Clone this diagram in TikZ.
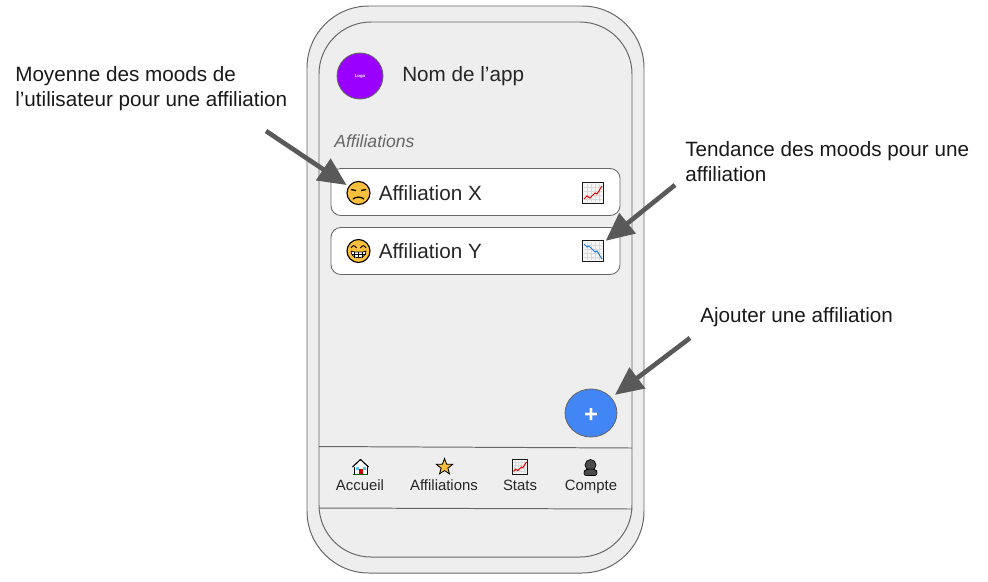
\documentclass[tikz,border=0pt]{standalone}
\usepackage{fontspec}
\setmainfont{Liberation Sans}
\usepackage[svgnames]{xcolor}
\usetikzlibrary{arrows.meta,shapes.geometric}
\definecolor{phonegrey}{HTML}{EEEEEE}
\definecolor{linegrey}{HTML}{666666}
\definecolor{arrowgrey}{HTML}{595959}
\definecolor{logopurple}{HTML}{9900FF}
\definecolor{fabblue}{HTML}{4285F4}
\definecolor{emojiyellow}{HTML}{FBBF3E}
\tikzset{
	phone/.style={draw=linegrey,fill=phonegrey,line width=0.7pt},
	card/.style={draw=linegrey,fill=white,line width=0.6pt,rounded corners=7pt,minimum width=289*0.025cm,minimum height=47*0.025cm},
	cardlabel/.style={anchor=base west,font=\fontsize{14.7}{17}\selectfont,text=black!85,inner sep=0pt},
	note/.style={anchor=base west,font=\fontsize{14.7}{17}\selectfont,text=black!90,inner sep=0pt},
	navlabel/.style={anchor=base,font=\fontsize{10.6}{12}\selectfont,text=black!85,inner sep=0pt},
	face/.style={circle,draw=black,fill=emojiyellow,line width=0.8pt,minimum size=23*0.025cm,inner sep=0pt,outer sep=0pt},
	chartbox/.style={draw=black!90,fill=phonegrey!60,line width=1pt,minimum size=21*0.025cm,inner sep=0pt,outer sep=0pt},
	callout/.style={draw=arrowgrey,line width=3.3pt,shorten >=2pt,-{Triangle[length=20pt,width=18pt]}},
	chartgrid/.pic={
		\foreach \g in {-6,-2,2,6} {
			\draw[black!15,line width=0.4pt] (\g,-9) -- (\g,9);
			\draw[black!15,line width=0.4pt] (-9,\g) -- (9,\g);
		}
	},
	chartup/.pic={
		\draw[red!90!black,line width=0.7pt] (-9,6) -- (-6,3) -- (-3,5) -- (2,0) -- (4,1) -- (9,-7);
	},
	chartdown/.pic={
		\draw[DodgerBlue!85!black,line width=0.7pt] (-9,-7) -- (-6,-4) -- (-4,-5) -- (2,1) -- (4,0) -- (9,8);
	},
}
\begin{document}
\begin{tikzpicture}[x=0.025cm,y=-0.025cm]
		\useasboundingbox (0,0) rectangle (988,581);
		\draw[phone,rounded corners=44pt] (307,6) rectangle (644,573);
		\draw[phone,rounded corners=37pt] (319,22) rectangle (632,557);
		\draw[linegrey,line width=0.7pt] (319,446.5) -- (632,448);
		\draw[linegrey,line width=0.7pt] (319,508) -- (632,509);
		\node[circle,draw=linegrey,fill=logopurple,minimum size=46*0.025cm,inner sep=0pt,line width=0.6pt] (logo) at (360,76) {};
		\node[text=white,font=\fontsize{3}{3}\selectfont\bfseries,inner sep=0pt] (logotext) at (360,76) {Logo};
		\node[cardlabel] (appname) at (402,81) {Nom de l’app};
		\node[anchor=west,inner sep=0pt,text=black!60,font=\fontsize{12.5}{15}\selectfont\itshape] (heading) at (334,141) {Affiliations};
		\node[card] (cardx) at (475.5,192) {};
		\node[card] (cardy) at (475.5,251) {};
		\node[cardlabel] (labelx) at (378.5,200.4) {Affiliation X};
		\node[cardlabel] (labely) at (378.5,258.4) {Affiliation Y};
		\node[face] (facex) at (358.5,193) {};
		\draw[line width=0.9pt] (351,189.5) -- (356,190.5);
		\draw[line width=0.9pt] (361,190.5) -- (366,189.5);
		\draw[line width=0.9pt] (353,199) .. controls (356,196.5) and (361,196.5) .. (364,199);
		\node[face] (facey) at (358.5,251) {};
		\draw[line width=0.7pt] (351,248) .. controls (352.5,245) and (355,245) .. (356.5,248);
		\draw[line width=0.7pt] (360.5,248) .. controls (362,245) and (364.5,245) .. (366,248);
		\draw[fill=white,line width=0.5pt] (351,251) .. controls (354,252.5) and (363,252.5) .. (366,251) .. controls (366,260) and (351,260) .. (351,251);
		\draw[line width=0.3pt] (351.5,254.5) -- (365.5,254.5);
		\foreach \t in {354.5,358.5,362.5} {
			\draw[line width=0.3pt] (\t,252) -- (\t,257.5);
		}
		\node[chartbox] (chartx) at (593,193) {};
		\pic at (593,193) {chartgrid};
		\pic at (593,193) {chartup};
		\node[chartbox] (charty) at (593,251) {};
		\pic at (593,251) {chartgrid};
		\pic at (593,251) {chartdown};
		\node[circle,draw=linegrey,fill=fabblue,minimum width=48*0.025cm,inner sep=0pt,outer sep=0pt,line width=0.6pt,xscale=1.08] (fab) at (591,413) {};
		\node[text=white,inner sep=0pt,font=\fontsize{17}{17}\selectfont\bfseries] (plus) at (591,415) {+};
		\draw[fill=white,line width=0.7pt] (354,474) rectangle (367,465);
		\draw[fill=red!80!black,draw=none] (359,474) rectangle (362.5,469);
		\fill[cyan!70] (356,467) rectangle (358.5,469.5);
		\fill[cyan!70] (363,467) rectangle (365.5,469.5);
		\draw[fill=white,line width=0.8pt,line join=round] (352.5,467) -- (360.5,459.5) -- (368.5,467);
		\draw[DarkGreen,line width=0.7pt] (353,474.5) -- (368,474.5);
		\node[navlabel] (navhome) at (360,490) {Accueil};
		\node[star,star points=5,star point ratio=2.4,draw=black,fill=emojiyellow,line width=0.6pt,minimum size=17*0.025cm,inner sep=0pt] (navstar) at (444.5,467) {};
		\node[navlabel] (navaff) at (444,490) {Affiliations};
		\node[chartbox,minimum size=15*0.025cm,line width=0.8pt] (navchart) at (520,467) {};
		\pic[scale=0.72] at (520,467) {chartgrid};
		\pic[scale=0.72] at (520,467) {chartup};
		\node[navlabel] (navstats) at (520,490) {Stats};
		\draw[fill=black!70,line width=0.5pt] (590.5,465) circle[radius=5.5];
		\draw[fill=black!70,line width=0.5pt,rounded corners=1.5pt] (584,475.5) -- (584,471) -- (587.5,469) -- (593.5,469) -- (597,471) -- (597,475.5) -- cycle;
		\node[navlabel] (navaccount) at (591,490) {Compte};
		\node[note] (notemean) at (15,81.2) {Moyenne des moods de};
		\node[note] (notemeantwo) at (15,106.2) {l’utilisateur pour une affiliation};
		\node[note] (notetrend) at (685,156.2) {Tendance des moods pour une};
		\node[note] (notetrendtwo) at (685,181.2) {affiliation};
		\node[note] (noteadd) at (700,322.2) {Ajouter une affiliation};
		\coordinate (startmean) at (266,131);
		\coordinate (starttrend) at (675,185);
		\coordinate (startadd) at (690,338);
		\draw[callout] (startmean) -- (facex);
		\draw[callout] (starttrend) -- (charty);
		\draw[callout,shorten >=3.5pt] (startadd) -- (fab);
	\end{tikzpicture}
\end{document}
